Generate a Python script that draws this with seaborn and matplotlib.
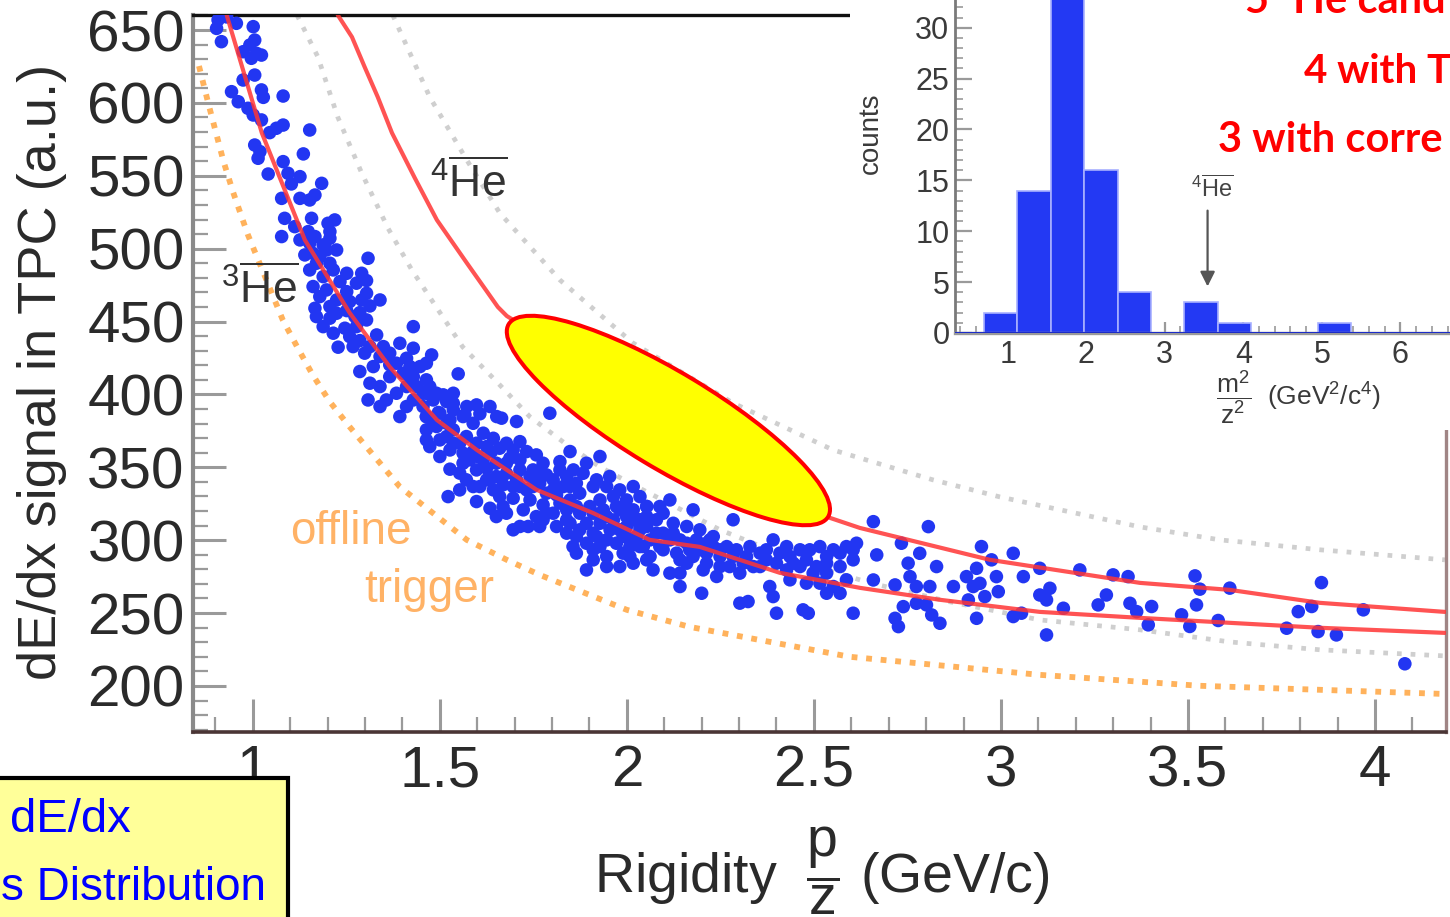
import matplotlib
matplotlib.use("Agg")
import matplotlib.pyplot as plt
import seaborn as sns
import pandas as pd
from matplotlib.patches import Ellipse, Rectangle
from matplotlib.transforms import ScaledTranslation

sns.set_theme(style="white")
plt.rcParams["font.family"] = ["Liberation Sans", "DejaVu Sans"]
plt.rcParams["mathtext.fontset"] = "custom"
plt.rcParams["mathtext.rm"] = "Liberation Sans"
plt.rcParams["mathtext.it"] = "Liberation Sans"
plt.rcParams["mathtext.sf"] = "Liberation Sans"
plt.rcParams["mathtext.bf"] = "Liberation Sans:bold"

# ---- measured tracks: rigidity p/z (GeV/c) and TPC dE/dx (a.u.) ----
rigidity = [
    0.907, 0.930, 0.903, 0.956, 1.001, 0.916, 1.005, 0.992, 0.974, 1.010, 1.023, 0.996,
    1.005, 0.974, 0.943, 1.023, 1.028, 1.081, 0.961, 0.987, 1.001, 1.023, 1.063, 1.081,
    1.045, 1.152, 1.005, 1.019, 1.014, 1.135, 1.081, 1.041, 1.094, 1.126, 1.184, 1.103,
    1.077, 1.126, 1.152, 1.166, 1.085, 1.157, 1.201, 1.219, 1.112, 1.148, 1.206, 1.077,
    1.166,
    1.188, 1.224, 1.139, 1.308, 1.170, 1.206, 1.152, 1.188, 1.233, 1.277, 1.304, 1.291,
    1.161, 1.197, 1.251, 1.291, 1.340, 1.313, 1.166, 1.206, 1.251, 1.286, 1.170, 1.206,
    1.273, 1.188, 1.246, 1.429, 1.331, 1.259, 1.286, 1.393, 1.429, 1.228, 1.299, 1.340,
    1.411, 1.478, 1.447, 1.366, 1.286, 1.322, 1.402, 1.340, 1.438, 1.549, 1.384, 1.491,
    1.518, 1.411, 1.455, 1.308, 1.496, 1.598, 1.607, 1.567, 1.652,
    1.152, 1.206, 1.179, 1.215, 1.251, 1.179, 1.224, 1.259, 1.224, 1.304, 1.277, 1.313,
    1.349, 1.366, 1.384, 1.420, 1.464, 1.429, 1.464, 1.366, 1.411, 1.464, 1.429, 1.536,
    1.536, 1.464, 1.393, 1.340,
    1.161, 1.197, 1.126, 1.251, 1.304, 1.215, 1.268, 1.313, 1.357, 1.420, 1.473, 1.527,
    1.572, 1.634,
    1.665, 1.705, 1.794, 1.500, 1.536, 1.571, 1.598, 1.473, 1.527, 1.562, 1.602, 1.638,
    1.678, 1.714, 1.732, 1.687, 1.651, 1.625, 1.678, 1.714, 1.749, 1.776, 1.821, 1.848,
    1.928, 1.527, 1.571, 1.607, 1.634, 1.669, 1.705, 1.732, 1.767, 1.803, 1.839, 1.883,
    1.919, 1.954, 1.981, 2.017, 1.522, 1.553, 1.598, 1.634, 1.678, 1.696, 1.741, 1.776,
    1.812, 1.848, 1.874, 1.901, 1.937, 1.972, 1.999, 2.035, 1.696, 1.736, 1.776, 1.812,
    1.848, 1.865, 1.910, 1.946, 1.981, 2.026, 2.053, 1.865, 1.910, 1.946, 1.990, 2.017,
    1.892, 2.053,
    1.455, 1.482, 1.509, 1.536, 1.464, 1.500, 1.562, 1.589, 1.464, 1.491, 1.536, 1.500,
    1.562, 1.589, 1.616, 1.643, 1.660, 1.696, 1.758, 1.714, 1.741, 1.785, 1.821, 1.857,
    1.892, 1.910, 1.946, 1.830, 1.865, 1.714, 1.660, 1.643, 1.589, 1.785, 1.839, 1.874,
    1.928, 1.964, 1.999, 2.035, 2.053, 2.017, 1.803, 1.758, 1.723, 1.651, 1.714, 1.839,
    1.892, 1.928, 1.964, 1.999, 2.035, 1.972, 1.928, 1.892, 2.008, 2.044, 1.946, 1.981,
    1.910, 1.856, 1.669, 1.464, 1.553,
    1.482, 1.518, 1.518, 1.553, 1.580, 1.616, 1.625, 1.678, 1.651, 1.696, 1.749, 1.767,
    1.803, 1.848, 1.821, 1.865, 1.910, 1.946, 1.981, 2.017, 2.053, 1.990, 1.955, 1.919,
    1.874, 1.839, 1.785, 1.767, 1.625, 1.598,
    2.088, 2.115, 2.177, 2.079, 2.124, 2.160, 2.195, 2.097, 2.142, 2.186, 2.231, 2.267,
    2.284, 2.097, 2.133, 2.168, 2.213, 2.249, 2.293, 2.329, 2.356, 2.391, 2.409, 2.436,
    2.463, 2.489, 2.516, 2.552, 2.587, 2.614, 2.142, 2.204, 2.240, 2.142, 2.200, 2.249,
    2.302, 2.338, 2.373, 2.400, 2.445, 2.480, 2.507, 2.534, 2.570, 2.605, 2.382, 2.391,
    2.436, 2.480, 2.516, 2.552, 2.587, 2.302, 2.324, 2.400, 2.471, 2.485, 2.605, 2.534,
    2.570,
    1.990, 2.017, 2.035, 1.999, 2.035, 2.062, 2.062, 2.008, 2.079, 2.115, 2.160, 2.213,
    2.195, 2.231, 2.249, 2.160, 2.213, 2.275, 2.311, 2.356, 2.427, 2.463, 2.498, 2.534,
    2.570, 2.605, 2.142, 2.070, 2.097, 2.053,
    2.026, 2.088, 2.124, 2.177, 2.222, 2.284, 2.320, 2.373, 2.427, 2.534, 2.115,
    2.659, 2.806, 2.734, 2.668, 2.783, 2.752, 2.828, 2.948, 3.033, 2.975, 3.104, 3.211,
    3.300, 3.340, 2.935, 2.908, 2.988, 3.060, 2.659, 2.717, 2.757, 2.774, 2.810, 2.873,
    2.926, 2.944, 2.993, 2.957, 2.913, 3.104, 3.131, 3.122, 3.167, 3.282, 3.260, 3.345,
    3.363, 2.739, 2.774, 2.801, 2.815, 2.837, 2.717, 2.726, 2.935, 3.033, 3.055, 3.122,
    3.394, 3.403, 3.483, 3.505, 3.519, 3.532, 3.523, 3.581, 3.612, 3.764, 3.795, 3.831,
    3.857, 3.848, 3.897, 3.969, 4.080,
]
dedx = [
    656.9, 659.0, 651.1, 654.6, 652.3, 642.0, 643.1, 639.7, 635.1, 634.0, 632.8, 630.6,
    619.1, 615.7, 607.7, 608.9, 603.8, 604.7, 600.8, 596.3, 591.7, 588.3, 582.6, 584.8,
    579.6, 581.4, 571.1, 566.6, 562.0, 565.0, 559.7, 551.2, 551.7, 549.4, 544.8, 544.4,
    534.5, 534.5, 533.4, 536.8, 520.8, 520.8, 517.4, 519.7, 515.1, 511.7, 511.7, 508.3,
    508.3,
    502.6, 499.1, 495.7, 493.4, 490.0, 490.0, 485.4, 480.8, 477.4, 476.3, 478.1, 483.1,
    474.0, 471.7, 470.5, 464.8, 464.8, 460.7, 459.1, 460.3, 457.5, 456.1, 453.4, 452.3,
    453.4, 446.5, 445.4, 446.5, 440.8, 439.7, 436.9, 435.1, 431.7, 432.4, 428.3, 426.0,
    424.8, 427.1, 419.1, 420.3, 415.7, 419.1, 414.5, 405.4, 405.4, 414.1, 400.8, 400.8,
    395.1, 391.7, 391.7, 396.2, 387.6, 392.8, 386.7, 386.0, 384.8,
    503.7, 507.1, 494.6, 485.4, 483.1, 467.1, 464.8, 463.7, 455.7, 451.1, 446.5, 432.8,
    432.8, 428.3, 421.4, 419.1, 421.4, 412.2, 410.0, 412.2, 405.4, 400.8, 396.2, 400.8,
    389.4, 384.8, 384.8, 391.7,
    496.8, 499.1, 506.0, 464.8, 469.4, 442.0, 432.8, 407.7, 396.2, 412.2, 405.4, 382.5,
    391.7, 391.7,
    383.7, 381.4, 387.1, 368.8, 375.7, 371.1, 366.5, 364.2, 361.9, 359.7, 357.4, 360.8,
    366.5, 367.6, 360.8, 356.2, 352.8, 349.4, 345.9, 348.2, 348.2, 352.8, 353.9, 360.8,
    357.4, 348.7, 341.4, 336.8, 341.4, 338.0, 341.4, 334.5, 339.1, 341.4, 343.7, 345.9,
    341.4, 343.7, 334.5, 336.8, 329.9, 334.5, 326.5, 321.9, 318.5, 328.8, 327.6, 324.2,
    331.1, 327.6, 332.2, 323.1, 320.8, 323.1, 316.2, 314.0, 307.1, 309.4, 314.0, 309.4,
    311.6, 302.5, 304.8, 300.2, 307.1, 302.5, 309.4, 291.1, 293.4, 288.8, 291.1, 284.2,
    279.6, 286.5,
    400.8, 396.2, 399.7, 393.9, 384.8, 387.1, 384.8, 380.2, 375.7, 378.0, 366.5, 357.4,
    352.8, 360.8, 373.4, 369.9, 363.1, 361.9, 358.5, 355.1, 343.7, 344.8, 348.2, 348.2,
    352.8, 336.8, 336.8, 336.8, 339.1, 336.8, 329.9, 334.5, 336.8, 332.2, 320.8, 318.5,
    327.6, 329.9, 327.6, 329.9, 323.1, 320.8, 318.5, 316.2, 320.8, 316.2, 309.4, 304.8,
    311.6, 311.6, 313.9, 309.4, 307.1, 297.9, 295.6, 297.9, 295.6, 295.6, 281.9, 281.9,
    286.5, 295.6, 323.1, 368.8, 346.0,
    380.2, 380.2, 371.1, 366.5, 355.1, 355.1, 364.2, 352.8, 343.7, 336.8, 336.8, 345.9,
    334.5, 336.8, 325.4, 323.1, 318.5, 316.2, 320.8, 314.0, 316.2, 302.5, 307.1, 302.5,
    307.1, 313.9, 318.5, 309.4, 341.4, 348.2,
    323.1, 327.6, 320.8, 314.0, 311.6, 309.4, 307.1, 304.8, 300.2, 300.2, 302.5, 295.6,
    314.0, 293.4, 291.1, 293.4, 291.1, 288.8, 293.4, 295.6, 291.1, 300.2, 291.1, 288.8,
    293.4, 293.4, 295.6, 293.4, 295.6, 297.9, 277.4, 279.6, 275.1, 268.2, 263.6, 281.9,
    277.4, 281.9, 286.5, 284.2, 284.2, 286.5, 281.9, 284.2, 281.9, 286.5, 268.2, 261.3,
    272.8, 270.5, 270.5, 268.2, 272.8, 256.8, 257.9, 249.9, 252.2, 249.9, 249.9, 263.6,
    263.6,
    323.1, 316.2, 309.4, 302.5, 295.6, 300.2, 288.8, 288.8, 304.8, 300.2, 297.9, 297.9,
    293.4, 295.6, 293.4, 284.2, 284.2, 281.9, 284.2, 281.9, 279.6, 281.9, 277.4, 277.4,
    291.1, 293.4, 286.5, 279.6, 318.5, 323.1,
    302.5, 295.6, 304.8, 288.8, 300.2, 288.8, 288.8, 293.4, 295.6, 288.8, 277.4,
    312.7, 309.3, 297.9, 289.9, 291.0, 284.2, 281.9, 295.6, 291.0, 286.5, 280.7, 279.6,
    276.2, 275.0, 280.7, 275.0, 275.0, 275.0, 272.7, 269.3, 275.0, 268.2, 268.2, 268.2,
    268.2, 270.4, 264.7, 261.3, 259.0, 262.4, 267.0, 259.0, 253.3, 262.4, 255.6, 256.7,
    251.0, 254.4, 256.7, 255.6, 248.7, 243.0, 246.4, 240.7, 246.4, 247.6, 249.9, 235.0,
    241.9, 254.5, 248.8, 240.8, 275.5, 266.4, 255.6, 244.9, 267.1, 239.6, 251.0, 254.5,
    270.9, 237.3, 235.0, 252.2, 215.2,
]

# ---- expected-band curves ----
he3_x = [0.930, 1.024, 1.139, 1.259, 1.366, 1.492, 1.599, 1.759, 1.909, 2.061, 2.195,
         2.409, 2.623, 2.837, 3.104, 3.372, 3.612, 3.853, 4.187]
he3_y = [660.3, 579.4, 506.0, 455.9, 418.9, 382.5, 361.9, 334.5, 318.7, 300.2, 295.4,
         277.6, 267.3, 259.1, 250.8, 246.7, 243.3, 239.9, 236.4]
he4_x = [1.227, 1.265, 1.299, 1.334, 1.372, 1.433, 1.492, 1.572, 1.655, 1.679, 2.543,
         2.623, 2.971, 3.372, 3.612, 3.853, 4.187]
he4_y = [660.3, 645.2, 624.6, 604.0, 579.4, 548.5, 519.7, 490.2, 460.0, 453.8, 315.3,
         308.4, 286.5, 270.7, 265.9, 257.0, 250.8]
band_lo_x = [1.118, 1.174, 1.227, 1.291, 1.361, 1.425, 1.492, 1.561, 1.655, 1.741, 1.840,
             1.928, 2.043, 2.249, 2.463, 2.650, 2.864, 3.104, 3.372, 3.612, 3.853, 4.187]
band_lo_y = [660.3, 631.5, 590.3, 551.9, 514.2, 485.4, 459.3, 432.6, 407.9, 384.6, 365.4,
             350.3, 334.5, 307.1, 285.1, 270.7, 257.7, 245.3, 238.5, 230.2, 224.8, 220.6]
band_hi_x = [1.374, 1.473, 1.572, 1.660, 1.821, 2.016, 2.283, 2.551, 2.818, 2.997, 3.372,
             3.586, 3.853, 4.187]
band_hi_y = [660.3, 604.0, 560.8, 524.5, 478.5, 435.3, 394.2, 361.9, 341.4, 329.7, 309.1,
             300.2, 293.4, 286.5]
trigger_x = [0.856, 0.880, 0.901, 0.922, 0.947, 0.973, 0.987, 1.080, 1.120, 1.160, 1.206,
             1.259, 1.393, 1.572, 1.679, 1.767, 2.000, 2.168, 2.596, 3.104, 3.532, 4.174]
trigger_y = [625.3, 600.6, 580.0, 559.5, 538.9, 519.7, 509.4, 451.1, 431.9, 413.4, 394.9,
             377.7, 336.6, 300.2, 286.5, 276.2, 252.2, 240.5, 220.0, 207.6, 200.1, 194.6]

# ---- mass-squared histogram (inset) ----
m2_edges = [0.7, 1.125, 1.55, 1.975, 2.4, 2.825, 3.25, 3.675, 4.1, 4.525, 4.95, 5.375]
m2_counts = [2, 14, 36, 16, 4, 0, 3, 1, 0, 0, 1]

x_major = [1, 1.5, 2, 2.5, 3, 3.5, 4]
x_labels = ["1", "1.5", "2", "2.5", "3", "3.5", "4"]
y_major = [200, 250, 300, 350, 400, 450, 500, 550, 600, 650]

W, H = 1450, 917
fig = plt.figure(figsize=(W / 100, H / 100), dpi=100)
fig.patch.set_facecolor("white")


def fx(px):
    return px / W


def fy(py):
    return 1 - py / H


ax = fig.add_axes([fx(193), fy(732), (1446 - 193) / W, (732 - 15) / H])
ax.set_facecolor("white")
ax.set_xlim(0.84, 4.19)
ax.set_ylim(168.4, 660.3)

ax.plot(band_hi_x, band_hi_y, color="#cfcfcf", lw=3.4, ls=(0, (1, 1.9)), zorder=1)
ax.plot(band_lo_x, band_lo_y, color="#cfcfcf", lw=3.4, ls=(0, (1, 1.9)), zorder=1)
ax.plot(trigger_x, trigger_y, color="#ffaa4a", lw=4.2, ls=(0, (1, 1.5)), alpha=0.9, zorder=1)

pts = pd.DataFrame({"rigidity": rigidity, "dedx": dedx})
sns.scatterplot(data=pts, x="rigidity", y="dedx", ax=ax, s=95, color="#2236f2",
                edgecolor="none", linewidth=0, zorder=3, legend=False)

ax.plot(he3_x, he3_y, color="#ff3535", lw=3.0, alpha=0.85, zorder=4)
ax.plot(he4_x, he4_y, color="#ff3535", lw=3.0, alpha=0.85, zorder=4)

# highlighted region
cx, cy = 2.111, 382.1
ell = Ellipse((0, 0), width=3.73, height=0.96, angle=-31.1,
              transform=fig.dpi_scale_trans + ScaledTranslation(cx, cy, ax.transData),
              facecolor="#ffff00", edgecolor="#ff0000", lw=2.9, zorder=5)
ax.add_patch(ell)

ax.text(1.020, 471.7, r"$^{3}\overline{\mathrm{He}}$", fontsize=32, color="#333333",
        ha="center", va="center", zorder=6)
ax.text(1.578, 545.0, r"$^{4}\overline{\mathrm{He}}$", fontsize=32, color="#333333",
        ha="center", va="center", zorder=6)
ax.text(1.262, 305.7, "offline", fontsize=33, color="#ffb266", ha="center", va="center")
ax.text(1.471, 265.9, "trigger", fontsize=33, color="#ffb266", ha="center", va="center")

ax.set_xticks(x_major)
ax.set_xticklabels(x_labels)
ax.set_xticks([v / 10 for v in range(9, 42) if v % 5 != 0], minor=True)
ax.set_yticks(y_major)
ax.set_yticks([v for v in range(170, 661, 10) if v % 50 != 0], minor=True)
ax.tick_params(which="both", direction="in", bottom=True, left=True, top=False, right=False,
               color="#9a9a9a", labelcolor="#2a2a2a")
ax.tick_params(axis="x", which="major", length=24, width=2.2, labelsize=42, pad=9)
ax.tick_params(axis="x", which="minor", length=11, width=1.6)
ax.tick_params(axis="y", which="major", length=24, width=2.2, labelsize=42, pad=6)
ax.tick_params(axis="y", which="minor", length=11, width=1.6)

ax.spines["left"].set_color("#8a8a8a")
ax.spines["left"].set_linewidth(3.0)
ax.spines["bottom"].set_color("#4a3535")
ax.spines["bottom"].set_linewidth(2.6)
ax.spines["top"].set_color("#111111")
ax.spines["top"].set_linewidth(2.4)
ax.spines["right"].set_color("#a08585")
ax.spines["right"].set_linewidth(2.4)

ax.set_xlabel(r"Rigidity  $\dfrac{\mathrm{p}}{\mathrm{z}}$ (GeV/c)", fontsize=40, color="#2a2a2a")
ax.xaxis.label.set_va("center")
ax.xaxis.set_label_coords(0.502, -0.193)
ax.set_ylabel("dE/dx signal in TPC (a.u.)", fontsize=39, color="#2a2a2a")
ax.yaxis.label.set_va("center")
ax.yaxis.set_label_coords(-0.1205, 0.502)

# white panel behind the inset
fig.add_artist(Rectangle((fx(850), fy(430)), (W - 850) / W, 430 / H, transform=fig.transFigure,
                         facecolor="white", edgecolor="none", zorder=1))

# ---- inset: m^2/z^2 distribution ----
axin = fig.add_axes([fx(955), fy(333), 524 / W, 407 / H], zorder=2)
axin.patch.set_alpha(0)
axin.set_xlim(0.33, 7.0)
axin.set_ylim(0, 40)
centers = [(a + b) / 2 for a, b in zip(m2_edges[:-1], m2_edges[1:])]
sns.histplot(x=centers, weights=m2_counts, bins=m2_edges, ax=axin, color="#2339f3",
             alpha=1.0, edgecolor="#a8b0ff", linewidth=1.2, zorder=2)
axin.axhline(0, color="#1c2cc8", lw=2.2, zorder=3)
axin.set_xticks([1, 2, 3, 4, 5, 6])
axin.set_xticks([v / 5 for v in range(2, 35) if v % 5 != 0], minor=True)
axin.set_yticks([0, 5, 10, 15, 20, 25, 30])
axin.set_yticks([v for v in range(0, 40) if v % 5 != 0], minor=True)
axin.tick_params(which="both", direction="in", bottom=True, left=True, color="#9a9a9a",
                 labelcolor="#3a3a3a", labelsize=22)
axin.tick_params(axis="y", which="major", length=12, width=1.6, pad=4)
axin.tick_params(axis="y", which="minor", length=6, width=1.2)
axin.tick_params(axis="x", which="major", length=8, width=1.6, pad=5)
axin.tick_params(axis="x", which="minor", length=5, width=1.2)
for side in ("top", "right"):
    axin.spines[side].set_visible(False)
axin.spines["left"].set_color("#7a7a7a")
axin.spines["left"].set_linewidth(2.0)
axin.spines["bottom"].set_color("#9a9a9a")
axin.spines["bottom"].set_linewidth(2.4)
axin.set_ylabel("counts", fontsize=20, color="#3a3a3a")
axin.yaxis.label.set_va("center")
axin.yaxis.set_label_coords(-0.16, 0.49)
axin.set_xlabel(r"$\dfrac{\mathrm{m}^{2}}{\mathrm{z}^{2}}$  (GeV$^{2}$/c$^{4}$)", fontsize=19,
                color="#3a3a3a")
axin.xaxis.label.set_va("center")
axin.xaxis.set_label_coords(0.655, -0.157)
axin.text(3.608, 14.1, r"$^{4}\overline{\mathrm{He}}$", fontsize=17, color="#444444",
          ha="center", va="center")
axin.annotate("", xy=(3.545, 4.3), xytext=(3.545, 12.3),
              arrowprops=dict(arrowstyle="-|>", color="#555555", lw=1.6, mutation_scale=22))

# ---- annotations ----
red_kw = dict(color="#ff0000", fontweight="bold", family=["Lato", "DejaVu Sans"],
              va="baseline", ha="left", zorder=10)
fig.text(fx(1245), fy(13), "5 \u2074He cand", fontsize=30, **red_kw)
fig.text(fx(1304), fy(83), "4 with T", fontsize=29, **red_kw)
fig.text(fx(1218), fy(152), "3 with corre", fontsize=30, **red_kw)

fig.add_artist(Rectangle((fx(-10), fy(940)), 298 / W, (940 - 778) / H, transform=fig.transFigure,
                         facecolor="#ffff99", edgecolor="black", lw=3.0, zorder=8))
blue_kw = dict(color="#0000ff", va="baseline", ha="left", zorder=9)
fig.text(fx(10), fy(832), "dE/dx", fontsize=34, **blue_kw)
fig.text(fx(1), fy(900), "s Distribution", fontsize=33, **blue_kw)

fig.savefig("out.png", dpi=100, facecolor="white")
